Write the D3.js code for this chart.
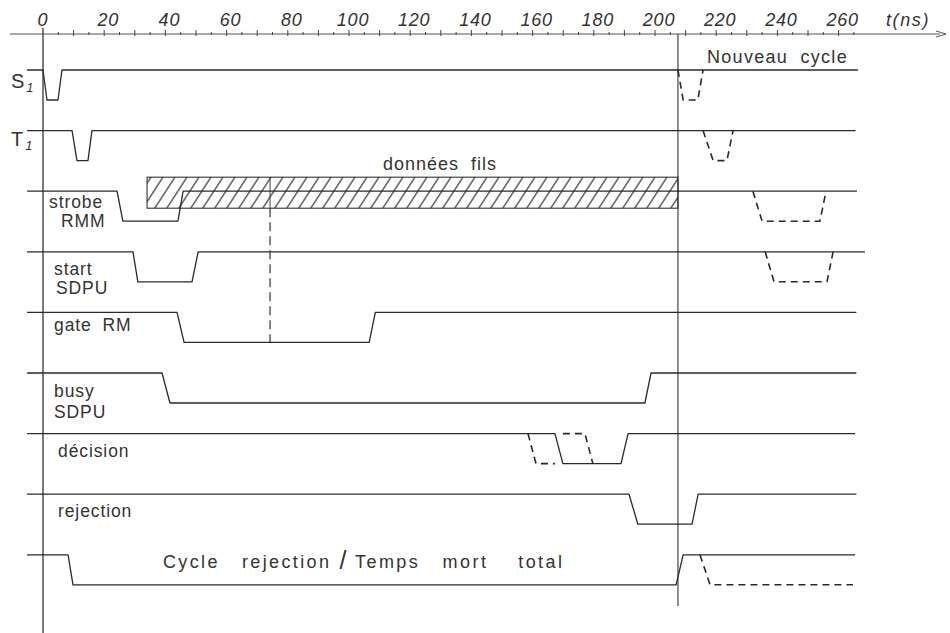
<!DOCTYPE html>
<html><head><meta charset="utf-8">
<script src="https://cdn.jsdelivr.net/npm/d3@7"></script>
<style>
html,body{margin:0;padding:0;background:#fff;}
svg{display:block;}
text{font-family:"Liberation Sans",Arial,sans-serif;fill:#333;}
text.pre{white-space:pre;}
</style></head>
<body>
<svg id="c" width="950" height="633"></svg>
<script>
// ---------- data (time in ns, level 1 = high, 0 = low) ----------
const tickLabels = [0,20,40,60,80,100,120,140,160,180,200,220,240,260];

const sigS1       = [[-5.2,1],[0,1],[1.3,0],[4.9,0],[6.2,1],[266.3,1]];
const sigS1Next   = [[207.5,1],[209.2,0],[214.0,0],[215.7,1]];
const sigT1       = [[-5.2,1],[9.5,1],[11.1,0],[14.7,0],[16.0,1],[265.5,1]];
const sigT1Next   = [[215.7,1],[219.0,0],[223.5,0],[225.5,1]];
const sigStrobe   = [[-5.2,1],[24.2,1],[26.1,0],[44.1,0],[45.8,1],[266.0,1]];
const sigStrobeNx = [[232.0,1],[235.0,0],[253.9,0],[255.9,1]];
const sigStart    = [[-5.2,1],[29.4,1],[31.0,0],[48.7,0],[50.7,1],[268.6,1]];
const sigStartNx  = [[236.0,1],[238.9,0],[256.2,0],[258.2,1]];
const sigGate     = [[-5.2,1],[43.8,1],[46.1,0],[106.6,0],[108.6,1],[265.8,1]];
const sigBusy     = [[-5.2,1],[38.9,1],[41.5,0],[196.7,0],[198.7,1],[265.8,1]];
const sigDecision = [[-5.2,1],[167.3,1],[169.9,0],[188.9,0],[191.2,1],[265.4,1]];
const sigDecEarly = [[158.5,1],[161.1,0],[167.3,0]];
const sigDecLate  = [[169.9,1],[177.1,1],[179.7,0]];
const sigReject   = [[-5.2,1],[191.5,1],[194.4,0],[212.1,0],[214.1,1],[265.8,1]];
const sigCycle    = [[-5.2,1],[8.2,1],[9.8,0],[206.9,0],[209.2,1],[265.4,1]];
const sigCycleNx  = [[214.7,1],[218.0,0],[264.7,0]];

const dataBox = [34.0, 207.5];     // "données fils" hatched interval (ns)
const newCycleT = 207.5;           // start of new cycle
const gateMarkT = 74.2;            // dashed marker

// ---------- scales ----------
const svg = d3.select("#c");
const x = d3.scaleLinear().domain([0,260]).range([43,838.6]);
const y = d3.scaleLinear().domain([0,8]).range([70,554.8]);
const amp = 30;
const lvl = (row) => d3.scaleLinear().domain([0,1]).range([y(row)+amp, y(row)]);

const ink = "#2a2a2a";

// ---------- axis ----------
const axisY = 34;
svg.append("line").attr("x1",10).attr("x2",940).attr("y1",axisY).attr("y2",axisY)
  .attr("stroke","#555").attr("stroke-width",1);
svg.append("path").attr("d",`M936,${axisY-3} L946,${axisY} L936,${axisY+3}`)
  .attr("fill","none").attr("stroke","#555").attr("stroke-width",1);

const minor = d3.range(5,266,5);
svg.append("g").selectAll("line").data(minor).join("line")
  .attr("x1",d=>x(d)).attr("x2",d=>x(d))
  .attr("y1",d=> d%10===0 ? axisY-4 : axisY-2)
  .attr("y2",d=> d%10===0 ? axisY+2 : axisY+1)
  .attr("stroke","#444").attr("stroke-width",1);

svg.append("g").selectAll("text").data(tickLabels).join("text")
  .attr("x",d=>x(d)+ (d===0?0:4)).attr("y",26)
  .attr("text-anchor","middle").attr("font-size",18).attr("font-style","italic")
  .attr("letter-spacing",0.8).attr("fill","#333").text(d=>d);
svg.append("text").attr("x",886).attr("y",26).attr("font-size",18)
  .attr("font-style","italic").attr("letter-spacing",1.6).text("t(ns)");

// vertical time axis & new-cycle line
svg.append("line").attr("x1",x(0)).attr("x2",x(0)).attr("y1",28).attr("y2",633)
  .attr("stroke","#333").attr("stroke-width",1.3);
svg.append("line").attr("x1",x(newCycleT)).attr("x2",x(newCycleT)).attr("y1",axisY).attr("y2",606)
  .attr("stroke","#444").attr("stroke-width",1.2);
svg.append("text").attr("x",707).attr("y",63).attr("font-size",18).attr("letter-spacing",1.3)
  .attr("word-spacing",6).text("Nouveau cycle");

// ---------- hatched data box ----------
const defs = svg.append("defs");
const pat = defs.append("pattern").attr("id","hatch").attr("patternUnits","userSpaceOnUse")
  .attr("width",12).attr("height",40).attr("patternTransform","skewX(-33)");
pat.append("line").attr("x1",2).attr("x2",2).attr("y1",0).attr("y2",40)
  .attr("stroke","#222").attr("stroke-width",1.3);
const boxTop = y(2)-14, boxBot = y(2)+17;
svg.append("rect").attr("x",x(dataBox[0])).attr("y",boxTop)
  .attr("width",x(dataBox[1])-x(dataBox[0])).attr("height",boxBot-boxTop)
  .attr("fill","url(#hatch)").attr("stroke","#333").attr("stroke-width",1.1);
svg.append("text").attr("x",440).attr("y",170).attr("text-anchor","middle")
  .attr("font-size",18).attr("letter-spacing",1).attr("word-spacing",6).text("données fils");
// marker line
svg.append("line").attr("x1",x(gateMarkT)).attr("x2",x(gateMarkT)).attr("y1",boxTop).attr("y2",boxBot)
  .attr("stroke","#444").attr("stroke-width",1);
svg.append("line").attr("x1",x(gateMarkT)).attr("x2",x(gateMarkT)).attr("y1",boxBot).attr("y2",lvl(4)(0))
  .attr("stroke","#333").attr("stroke-width",1.2).attr("stroke-dasharray","9,5");

// ---------- signals ----------
const signals = [
  {row:0, d:sigS1}, {row:0, d:sigS1Next, dash:true},
  {row:1, d:sigT1}, {row:1, d:sigT1Next, dash:true},
  {row:2, d:sigStrobe}, {row:2, d:sigStrobeNx, dash:true},
  {row:3, d:sigStart}, {row:3, d:sigStartNx, dash:true},
  {row:4, d:sigGate},
  {row:5, d:sigBusy},
  {row:6, d:sigDecision}, {row:6, d:sigDecEarly, dash:true}, {row:6, d:sigDecLate, dash:true},
  {row:7, d:sigReject},
  {row:8, d:sigCycle}, {row:8, d:sigCycleNx, dash:true}
];
svg.append("g").selectAll("path").data(signals).join("path")
  .attr("d", s => { const ly = lvl(s.row); return d3.line().x(p=>x(p[0])).y(p=>ly(p[1]))(s.d); })
  .attr("fill","none").attr("stroke",ink)
  .attr("stroke-width", s => s.dash ? 1.6 : 1.3)
  .attr("stroke-dasharray", s => s.dash ? "7,5" : null)
  .attr("stroke-linejoin","round");

// ---------- row labels ----------
[[0,"S",88],[1,"T",146]].forEach(([r,ch,by])=>{
  const t = svg.append("text").attr("x",11).attr("y",by).attr("font-size",20);
  t.append("tspan").text(ch);
  t.append("tspan").attr("dx",2).attr("dy",4).attr("font-size",13).attr("font-style","italic").text("1");
});
const lab = [
  {lines:["strobe","RMM"], x:[49,61], yy:[208,227]},
  {lines:["start","SDPU"], x:[54,56], yy:[275,294]},
  {lines:["gate RM"], x:[54], yy:[331]},
  {lines:["busy","SDPU"], x:[54,54], yy:[397,418]},
  {lines:["décision"], x:[58], yy:[457]},
  {lines:["rejection"], x:[58], yy:[517]}
];
lab.forEach(l => l.lines.forEach((s,i)=>{
  svg.append("text").attr("x",l.x[i]).attr("y",l.yy[i]).attr("font-size",17.5)
    .attr("letter-spacing",0.9).attr("word-spacing",5).text(s);
}));
// caption of last row
svg.append("text").attr("class","pre").attr("xml:space","preserve")
  .attr("x",163).attr("y",568).attr("font-size",18)
  .attr("textLength",166).attr("lengthAdjust","spacing").text("Cycle   rejection");
svg.append("text").attr("x",343).attr("y",569).attr("font-size",25).attr("text-anchor","middle")
  .attr("fill","#444").text("/");
svg.append("text").attr("class","pre").attr("xml:space","preserve")
  .attr("x",355).attr("y",568).attr("font-size",18)
  .attr("textLength",207).attr("lengthAdjust","spacing").text("Temps   mort    total");
</script>
</body></html>
